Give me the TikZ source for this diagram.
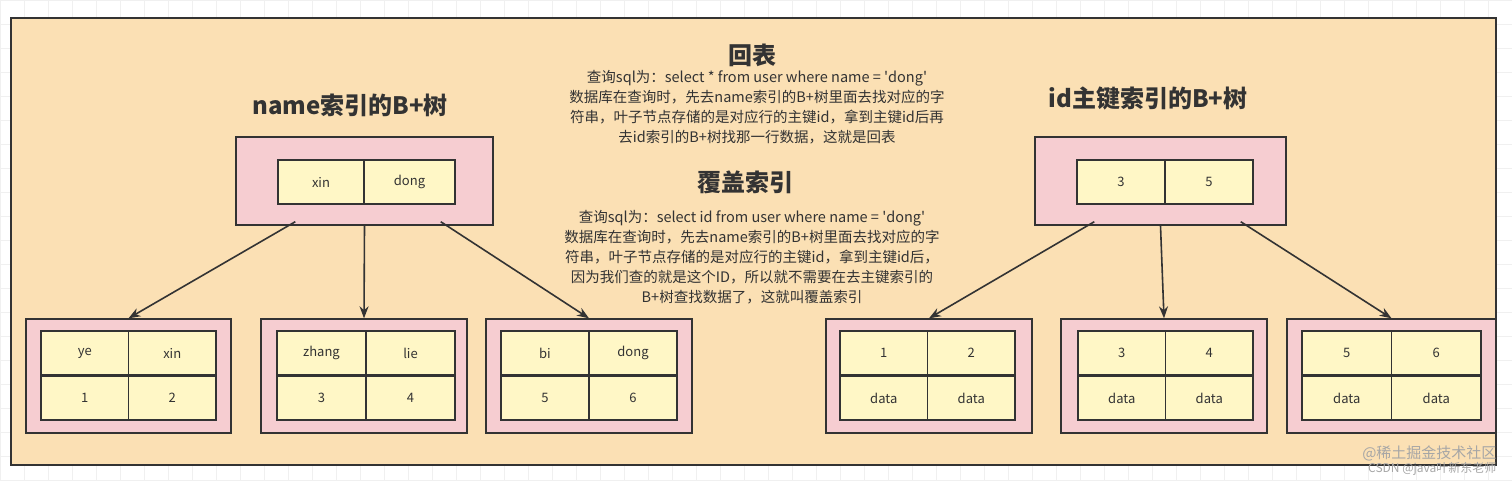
\documentclass[tikz,border=0pt]{standalone}
\usepackage{fontspec}
\setmainfont{Noto Sans CJK SC}
\usetikzlibrary{arrows.meta}
\definecolor{peach}{HTML}{FBE0B4}
\definecolor{pinkf}{HTML}{F6CDD1}
\definecolor{cellf}{HTML}{FFF7C6}
\definecolor{ink}{HTML}{333333}
\begin{document}
\begin{tikzpicture}[x=1pt,y=-1pt,
  outerbox/.style={draw=ink,line width=1.4pt,fill=pinkf},
  cell/.style={draw=ink,line width=1.4pt,fill=cellf,minimum width=#1,minimum height=44pt,inner sep=0pt,font=\fontsize{13}{13}\selectfont,text=ink},
  cell/.default=88pt,
  arr/.style={-{Stealth[length=12pt,width=9pt]},line width=1.6pt,draw=ink},
  ttl/.style={font=\bfseries\fontsize{24}{28}\selectfont,text=ink},
  body/.style={font=\fontsize{14.5}{20}\selectfont,align=center,text=ink}]
\useasboundingbox (0,0) rectangle (1512,480);
\fill[white] (0,0) rectangle (1512,480);
\draw[black!6,step=24pt] (0,0) grid (1512,480);
\draw[line width=1.4pt,draw=ink,fill=peach] (11,18) rectangle (1496,465);
% titles
\node[ttl] (tl) at (350,105) {name索引的B+树};
\node[ttl] (tr) at (1148,98) {id主键索引的B+树};
\node[ttl] (t1) at (752,55) {回表};
\node[body] (b1) at (757,107) {查询sql为：select * from user where name = \textquotesingle dong\textquotesingle\\数据库在查询时，先去name索引的B+树里面去找对应的字\\符串，叶子节点存储的是对应行的主键id，拿到主键id后再\\去id索引的B+树找那一行数据，这就是回表};
\node[ttl] (t2) at (745,182) {覆盖索引};
\node[body] (b2) at (752,257) {查询sql为：select id from user where name = \textquotesingle dong\textquotesingle\\数据库在查询时，先去name索引的B+树里面去找对应的字\\符串，叶子节点存储的是对应行的主键id，拿到主键id后，\\因为我们查的就是这个ID，所以就不需要在去主键索引的\\B+树查找数据了，这就叫覆盖索引};
% roots
\node[outerbox,minimum width=257pt,minimum height=88pt] (rl) at (364.5,181) {};
\node[cell=86pt] at (321,182) {xin};
\node[cell=91pt] at (409.5,182) {dong};
\node[outerbox,minimum width=251pt,minimum height=88pt] (rr) at (1160.5,181) {};
\node[cell=88pt] at (1121,182) {3};
\node[cell=88pt] at (1209,182) {5};
% leaves
\newcommand{\leafbox}[9]{%
  \node[outerbox,minimum width=#3,minimum height=114pt] (#1) at (#2,376) {};
  \node[cell=#5] at ({#4-#5/2},353) {#6};
  \node[cell=#5] at ({#4+#5/2},353) {#7};
  \node[cell=#5] at ({#4-#5/2},398) {#8};
  \node[cell=#5] at ({#4+#5/2},398) {#9};}
\leafbox{l1}{128.5}{205pt}{128.5}{87.5}{ye}{xin}{1}{2}
\leafbox{l2}{364}{206pt}{366}{89}{zhang}{lie}{3}{4}
\leafbox{l3}{589}{206pt}{589}{88}{bi}{dong}{5}{6}
\leafbox{r1}{929}{206pt}{927.5}{87.5}{1}{2}{data}{data}
\leafbox{r2}{1164}{206pt}{1165.5}{87.5}{3}{4}{data}{data}
\leafbox{r3}{1391.5}{209pt}{1391.5}{89.5}{5}{6}{data}{data}
% arrows
\draw[arr] (rl.south west)++(60,-4) -- (l1.north);
\draw[arr] (rl.south) -- (l2.north);
\draw[arr] (rl.south east)++(-53,-4) -- (l3.north);
\draw[arr] (rr.south west)++(60,-4) -- (r1.north);
\draw[arr] (rr.south) -- (r2.north);
\draw[arr] (rr.south east)++(-46,-4) -- (r3.north);
\node[text=black!35,font=\fontsize{15}{15}\selectfont,anchor=east] (w1) at (1500,453) {@稀土掘金技术社区};
\node[text=black!35,font=\fontsize{12}{12}\selectfont,anchor=east] (w2) at (1500,469) {CSDN @java叶新东老师};
\end{tikzpicture}
\end{document}
